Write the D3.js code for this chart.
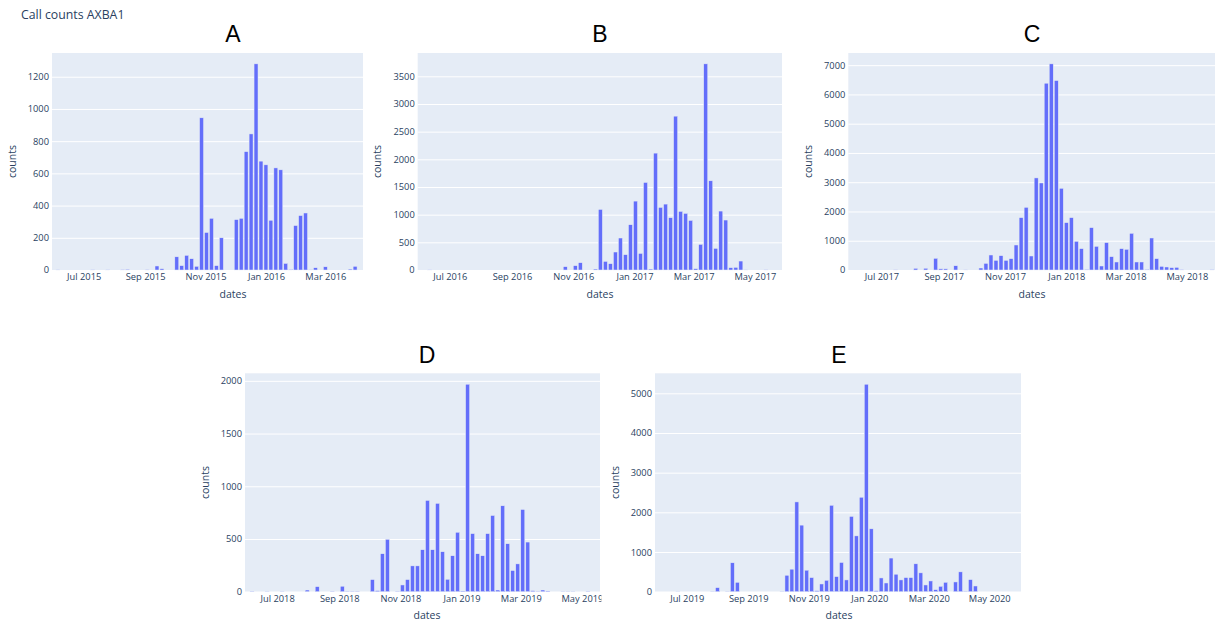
<!DOCTYPE html>
<html><head><meta charset="utf-8">
<script src="https://cdn.jsdelivr.net/npm/d3@7"></script>
<style>
html,body{margin:0;padding:0;background:#fff;}
svg{display:block;}
</style></head>
<body>
<svg id="chart" width="1217" height="621"></svg>
<script>
// ---------------- data ----------------
const mainTitle = "Call counts AXBA1";
const panelTitles = ["A", "B", "C", "D", "E"];
const BIN_DAYS = 5;
// first bin date of each panel
const binStartA = "2015-06-05";
const binStartB = "2016-06-11";
const binStartC = "2017-06-10";
const binStartD = "2018-06-06";
const binStartE = "2019-06-07";
// counts per 5-day bin
const valuesA = [2,0,0,0,0,0,0,1,0,0, 2,0,0,3,5,0,0,0,3,0,
  25,8,0,0,82,27,91,70,23,945, 233,321,27,200,0,0,313,321,735,845,
  1280,676,653,309,634,622,41,4,276,338, 354,2,14,0,20,0,0,0,0,6, 23];
const valuesB = [2,0,0,0,0,0,0,0,0,0, 0,0,0,0,0,0,0,0,0,0,
  0,0,0,0,0,0,0,60,0,78, 132,0,0,18,1095,156,114,325,578,277,
  818,1245,300,1582,18,2112,1131,1191,945,2780, 1059,1023,896,24,463,3725,1612,391,1065,903,
  42,48,162,5,0,0,0,3];
const valuesC = [0,0,0,0,0,0,0,5,0,0, 0,57,0,60,0,400,40,40,0,145,
  0,10,0,0,68,228,513,330,490,330, 388,855,1790,2143,479,3147,2975,6384,7045,6475,
  2793,1619,1790,980,730,23,1448,809,137,935, 456,274,730,707,1254,274,274,23,1094,388,
  125,103,80,91,20,0,0,0,0,0,8];
const valuesD = [3,0,0,2,0,0,2,0,0,0, 0,16,0,48,0,0,3,0,52,3,
  3,3,0,0,115,10,360,497,0,3, 64,115,245,245,398,866,398,838,379,118,
  341,564,6,1968,551,360,341,551,723,16, 815,455,201,264,780,471,10,3,16,6,
  0,0,2,2,2,0,0,3];
const valuesE = [0,0,0,3,0,0,0,0,0,0, 5,102,0,5,729,237,0,0,0,0,
  0,0,0,0,5,415,568,2263,1678,542, 356,25,195,288,2178,381,737,297,1898,1407,
  2381,5229,1585,25,347,220,848,441,297,356, 356,703,475,170,271,51,136,237,0,246,
  500,8,305,144,0,0,0,0,0,0,0];
// y tick values
const yTicksA = [0,200,400,600,800,1000,1200];
const yTicksB = [0,500,1000,1500,2000,2500,3000,3500];
const yTicksC = [0,1000,2000,3000,4000,5000,6000,7000];
const yTicksD = [0,500,1000,1500,2000];
const yTicksE = [0,1000,2000,3000,4000,5000];
const xLabel = "dates", yLabel = "counts";

// ---------------- layout ----------------
const layout = [
  {start: binStartA, values: valuesA, yt: yTicksA, dom: ["2015-05-30","2016-04-08"],
   l: 52, r: 363, t: 53, b: 270, cx: 233, titleY: 41.5, ylabX: 12, xlabY: 294, clip: null},
  {start: binStartB, values: valuesB, yt: yTicksB, dom: ["2016-05-30","2017-05-28"],
   l: 417.7, r: 782, t: 53, b: 270, cx: 600, titleY: 41.5, ylabX: 377, xlabY: 294, clip: null},
  {start: binStartC, values: valuesC, yt: yTicksC, dom: ["2017-05-29","2018-05-29"],
   l: 848.3, r: 1215, t: 53, b: 270, cx: 1032, titleY: 41.5, ylabX: 808, xlabY: 294, clip: null},
  {start: binStartD, values: valuesD, yt: yTicksD, dom: ["2018-05-30","2019-05-19"],
   l: 245, r: 600, t: 373.3, b: 591.7, cx: 427, titleY: 363.3, ylabX: 205, xlabY: 615, clip: 601.5},
  {start: binStartE, values: valuesE, yt: yTicksE, dom: ["2019-05-30","2020-06-02"],
   l: 655, r: 1021, t: 373.3, b: 591.7, cx: 839, titleY: 363.3, ylabX: 615, xlabY: 615, clip: null}
];

const BG = "#E5ECF6", BAR = "#636EFA", TXT = "#2a3f5f";
const FONT = "'Open Sans', verdana, arial, sans-serif";
const svg = d3.select("#chart");
const parse = d3.utcParse("%Y-%m-%d");
const fmt = d3.utcFormat("%b %Y");

svg.append("text").attr("x", 21).attr("y", 19.3)
  .attr("font-family", FONT).attr("font-size", 12.3).attr("fill", TXT)
  .text(mainTitle);

const defs = svg.append("defs");

layout.forEach((p, k) => {
  const g = svg.append("g");
  if (p.clip) {
    defs.append("clipPath").attr("id", "clip" + k)
      .append("rect").attr("x", 0).attr("y", 0).attr("width", p.clip).attr("height", 621);
    g.attr("clip-path", `url(#clip${k})`);
  }
  const x = d3.scaleUtc().domain(p.dom.map(parse)).range([p.l, p.r]);
  const ymax = d3.max(p.values) / 0.95;
  const y = d3.scaleLinear().domain([0, ymax]).range([p.b, p.t]);
  const start = parse(p.start);

  g.append("rect").attr("x", p.l).attr("y", p.t)
    .attr("width", p.r - p.l).attr("height", p.b - p.t).attr("fill", BG);

  // horizontal grid + y tick labels
  const ya = g.append("g").attr("transform", `translate(${p.l},0)`)
    .call(d3.axisLeft(y).tickValues(p.yt).tickSize(-(p.r - p.l)).tickPadding(3).tickFormat(d3.format("d")));
  ya.select(".domain").remove();
  ya.selectAll(".tick line").attr("stroke", "#fff").attr("stroke-width", 1);
  ya.selectAll(".tick text").attr("fill", TXT).attr("font-family", FONT).attr("font-size", 9.3);

  // bars
  const data = p.values.map((v, i) => ({d: d3.utcDay.offset(start, BIN_DAYS * i), v}))
    .filter(o => o.v > 0);
  const bw = x(d3.utcDay.offset(start, BIN_DAYS * 0.8)) - x(start);
  g.append("g").selectAll("rect").data(data).join("rect")
    .attr("x", o => x(o.d) - bw / 2)
    .attr("y", o => y(o.v))
    .attr("width", bw)
    .attr("height", o => y(0) - y(o.v))
    .attr("fill", BAR)
    .attr("stroke", BG).attr("stroke-width", 0.5);

  // x axis
  const xa = g.append("g").attr("transform", `translate(0,${p.b})`)
    .call(d3.axisBottom(x).ticks(d3.utcMonth.every(2)).tickSize(0).tickPadding(3.5).tickFormat(fmt));
  xa.select(".domain").remove();
  xa.selectAll(".tick text").attr("fill", TXT).attr("font-family", FONT).attr("font-size", 9.3);

  // titles
  g.append("text").attr("x", p.cx).attr("y", p.titleY).attr("text-anchor", "middle")
    .attr("font-family", "'Liberation Sans', Arial, sans-serif").attr("font-size", 23).attr("fill", "#000")
    .text(panelTitles[k]);
  g.append("text").attr("x", p.cx).attr("y", p.xlabY).attr("dy", "0.35em").attr("text-anchor", "middle")
    .attr("font-family", FONT).attr("font-size", 10.5).attr("fill", TXT).text(xLabel);
  g.append("text").attr("transform", `translate(${p.ylabX},${(p.t + p.b) / 2}) rotate(-90)`)
    .attr("dy", "0.35em").attr("text-anchor", "middle")
    .attr("font-family", FONT).attr("font-size", 10.5).attr("fill", TXT).text(yLabel);
});
</script>
</body></html>
